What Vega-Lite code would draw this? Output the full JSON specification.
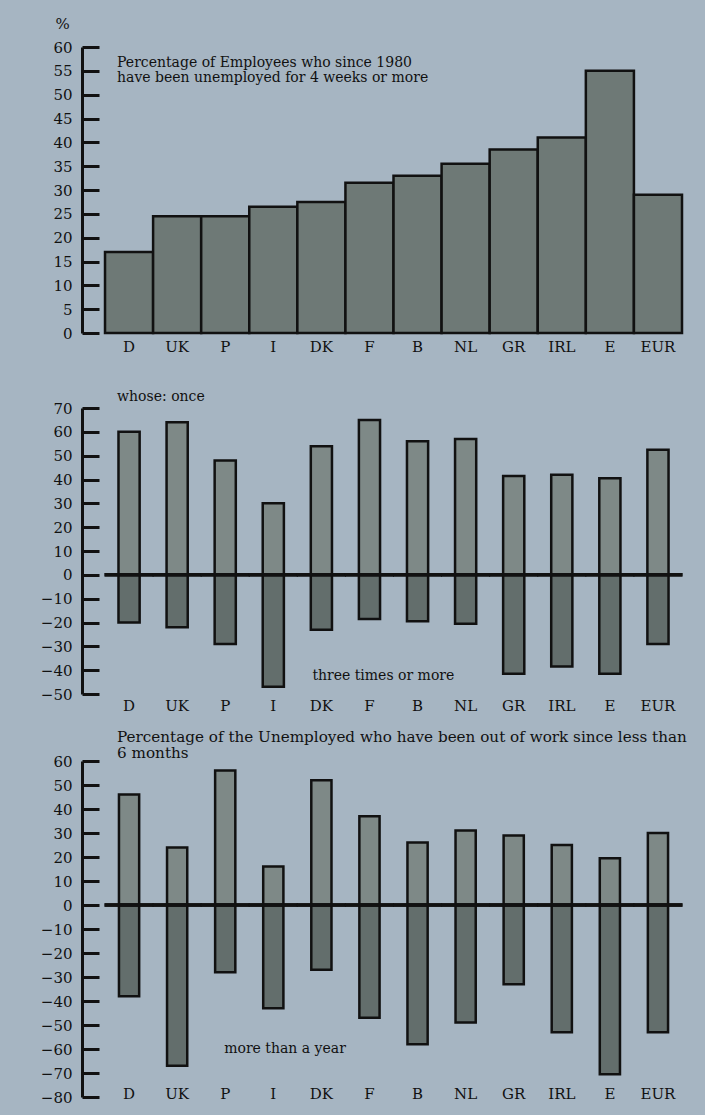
{
  "$schema": "https://vega.github.io/schema/vega-lite/v6.json",
  "background": "#a6b5c2",
  "padding": {"left": 40, "top": 16, "right": 19, "bottom": 11},
  "config": {
    "font": "DejaVu Serif",
    "view": {"stroke": null},
    "axis": {"labelFont": "DejaVu Serif", "labelFontSize": 15, "labelColor": "#111", "domainColor": "#111", "tickColor": "#111", "grid": false, "titleFont": "DejaVu Serif", "titleFontWeight": "normal", "titleColor": "#111"},
    "text": {"font": "DejaVu Serif", "fontSize": 14, "color": "#111"}
  },
  "datasets": {
    "employees": [
      {"country": "D", "value": 17},
      {"country": "UK", "value": 24.5},
      {"country": "P", "value": 24.5},
      {"country": "I", "value": 26.5},
      {"country": "DK", "value": 27.5},
      {"country": "F", "value": 31.5},
      {"country": "B", "value": 33},
      {"country": "NL", "value": 35.5},
      {"country": "GR", "value": 38.5},
      {"country": "IRL", "value": 41},
      {"country": "E", "value": 55},
      {"country": "EUR", "value": 29}
    ],
    "frequency": [
      {"country": "D", "kind": "once", "value": 60},
      {"country": "D", "kind": "three times or more", "value": -20},
      {"country": "UK", "kind": "once", "value": 64},
      {"country": "UK", "kind": "three times or more", "value": -22},
      {"country": "P", "kind": "once", "value": 48},
      {"country": "P", "kind": "three times or more", "value": -29},
      {"country": "I", "kind": "once", "value": 30},
      {"country": "I", "kind": "three times or more", "value": -47},
      {"country": "DK", "kind": "once", "value": 54},
      {"country": "DK", "kind": "three times or more", "value": -23},
      {"country": "F", "kind": "once", "value": 65},
      {"country": "F", "kind": "three times or more", "value": -18.5},
      {"country": "B", "kind": "once", "value": 56},
      {"country": "B", "kind": "three times or more", "value": -19.5},
      {"country": "NL", "kind": "once", "value": 57},
      {"country": "NL", "kind": "three times or more", "value": -20.5},
      {"country": "GR", "kind": "once", "value": 41.5},
      {"country": "GR", "kind": "three times or more", "value": -41.5},
      {"country": "IRL", "kind": "once", "value": 42},
      {"country": "IRL", "kind": "three times or more", "value": -38.5},
      {"country": "E", "kind": "once", "value": 40.5},
      {"country": "E", "kind": "three times or more", "value": -41.5},
      {"country": "EUR", "kind": "once", "value": 52.5},
      {"country": "EUR", "kind": "three times or more", "value": -29}
    ],
    "duration": [
      {"country": "D", "kind": "less than 6 months", "value": 46},
      {"country": "D", "kind": "more than a year", "value": -38},
      {"country": "UK", "kind": "less than 6 months", "value": 24},
      {"country": "UK", "kind": "more than a year", "value": -67},
      {"country": "P", "kind": "less than 6 months", "value": 56},
      {"country": "P", "kind": "more than a year", "value": -28},
      {"country": "I", "kind": "less than 6 months", "value": 16},
      {"country": "I", "kind": "more than a year", "value": -43},
      {"country": "DK", "kind": "less than 6 months", "value": 52},
      {"country": "DK", "kind": "more than a year", "value": -27},
      {"country": "F", "kind": "less than 6 months", "value": 37},
      {"country": "F", "kind": "more than a year", "value": -47},
      {"country": "B", "kind": "less than 6 months", "value": 26},
      {"country": "B", "kind": "more than a year", "value": -58},
      {"country": "NL", "kind": "less than 6 months", "value": 31},
      {"country": "NL", "kind": "more than a year", "value": -49},
      {"country": "GR", "kind": "less than 6 months", "value": 29},
      {"country": "GR", "kind": "more than a year", "value": -33},
      {"country": "IRL", "kind": "less than 6 months", "value": 25},
      {"country": "IRL", "kind": "more than a year", "value": -53},
      {"country": "E", "kind": "less than 6 months", "value": 19.5},
      {"country": "E", "kind": "more than a year", "value": -70.5},
      {"country": "EUR", "kind": "less than 6 months", "value": 30},
      {"country": "EUR", "kind": "more than a year", "value": -53}
    ]
  },
  "bounds": "flush",
  "spacing": 75,
  "vconcat": [
    {
      "width": 604,
      "height": 286,
      "data": {"name": "employees"},
      "encoding": {
        "x": {"field": "country", "type": "nominal", "sort": ["D", "UK", "P", "I", "DK", "F", "B", "NL", "GR", "IRL", "E", "EUR"], "scale": {"paddingInner": 0, "paddingOuter": 0.281, "align": 0.852}, "axis": {"title": null, "labelAngle": 0, "domain": false, "ticks": false, "labelPadding": 6}},
        "y": {"field": "value", "type": "quantitative", "scale": {"domain": [0, 60], "nice": false, "zero": false}, "axis": {"values": [0, 5, 10, 15, 20, 25, 30, 35, 40, 45, 50, 55, 60], "tickSize": -17, "tickWidth": 3, "labelPadding": 27, "domainWidth": 3, "title": "%", "titleAngle": 0, "titleX": -20, "titleY": -19, "titleAlign": "center", "titleBaseline": "alphabetic", "titleFontSize": 15}}
      },
      "layer": [
        {"mark": {"type": "bar", "fill": "#6e7976", "stroke": "#111", "strokeWidth": 2.5}},
        {
          "data": {"values": [{"country": "D", "value": 55.9, "note": "Percentage of Employees who since 1980\nhave been unemployed for 4 weeks or more"}]},
          "mark": {"type": "text", "align": "left", "baseline": "alphabetic", "dx": -12, "lineBreak": "\n", "lineHeight": 15.6},
          "encoding": {"text": {"field": "note"}}
        }
      ]
    },
    {
      "bounds": "flush",
      "spacing": 67,
      "vconcat": [
        {
          "width": 604,
          "height": 286,
          "data": {"name": "frequency"},
          "encoding": {
            "x": {"field": "country", "type": "nominal", "sort": ["D", "UK", "P", "I", "DK", "F", "B", "NL", "GR", "IRL", "E", "EUR"], "scale": {"paddingInner": 0, "paddingOuter": 0.281, "align": 0.852}, "axis": {"title": null, "labelAngle": 0, "domain": false, "ticks": false, "labelPadding": 4}},
            "y": {"field": "value", "type": "quantitative", "scale": {"domain": [-50, 70], "nice": false, "zero": false}, "axis": {"values": [-50, -40, -30, -20, -10, 0, 10, 20, 30, 40, 50, 60, 70], "tickSize": -17, "tickWidth": 3, "labelPadding": 27, "domainWidth": 3, "title": null}}
          },
          "layer": [
            {
              "mark": {"type": "bar", "stroke": "#111", "strokeWidth": 2.5, "width": {"band": 0.44}},
              "encoding": {"color": {"field": "kind", "type": "nominal", "scale": {"domain": ["once", "three times or more"], "range": ["#7e8987", "#636e6c"]}, "legend": null}}
            },
            {
              "mark": {"type": "tick", "orient": "horizontal", "size": 49, "thickness": 3.5, "color": "#111", "opacity": 1},
              "encoding": {"y": {"datum": 0, "type": "quantitative"}}
            },
            {
              "data": {"values": [{"country": "D", "value": 72.9, "note": "whose: once"}]},
              "mark": {"type": "text", "align": "left", "baseline": "alphabetic", "dx": -12},
              "encoding": {"text": {"field": "note"}}
            },
            {
              "data": {"values": [{"country": "DK", "value": -44.1, "note": "three times or more"}]},
              "mark": {"type": "text", "align": "left", "baseline": "alphabetic", "dx": -9},
              "encoding": {"text": {"field": "note"}}
            }
          ]
        },
        {
          "width": 604,
          "height": 336,
          "data": {"name": "duration"},
          "encoding": {
            "x": {"field": "country", "type": "nominal", "sort": ["D", "UK", "P", "I", "DK", "F", "B", "NL", "GR", "IRL", "E", "EUR"], "scale": {"paddingInner": 0, "paddingOuter": 0.281, "align": 0.852}, "axis": {"title": null, "labelAngle": 0, "domain": false, "ticks": false, "labelPadding": -11}},
            "y": {"field": "value", "type": "quantitative", "scale": {"domain": [-80, 60], "nice": false, "zero": false}, "axis": {"values": [-80, -70, -60, -50, -40, -30, -20, -10, 0, 10, 20, 30, 40, 50, 60], "tickSize": -17, "tickWidth": 3, "labelPadding": 27, "domainWidth": 3, "title": null}}
          },
          "layer": [
            {
              "mark": {"type": "bar", "stroke": "#111", "strokeWidth": 2.5, "width": {"band": 0.42}},
              "encoding": {"color": {"field": "kind", "type": "nominal", "scale": {"domain": ["less than 6 months", "more than a year"], "range": ["#7e8987", "#636e6c"]}, "legend": null}}
            },
            {
              "mark": {"type": "tick", "orient": "horizontal", "size": 49, "thickness": 3.5, "color": "#111", "opacity": 1},
              "encoding": {"y": {"datum": 0, "type": "quantitative"}}
            },
            {
              "data": {"values": [{"country": "D", "value": 67.9, "note": "Percentage of the Unemployed who have been out of work since less than\n6 months"}]},
              "mark": {"type": "text", "align": "left", "baseline": "alphabetic", "dx": -12, "fontSize": 15.2, "lineBreak": "\n", "lineHeight": 16},
              "encoding": {"text": {"field": "note"}}
            },
            {
              "data": {"values": [{"country": "P", "value": -61.7, "note": "more than a year"}]},
              "mark": {"type": "text", "align": "left", "baseline": "alphabetic", "dx": -1},
              "encoding": {"text": {"field": "note"}}
            }
          ]
        }
      ]
    }
  ]
}
